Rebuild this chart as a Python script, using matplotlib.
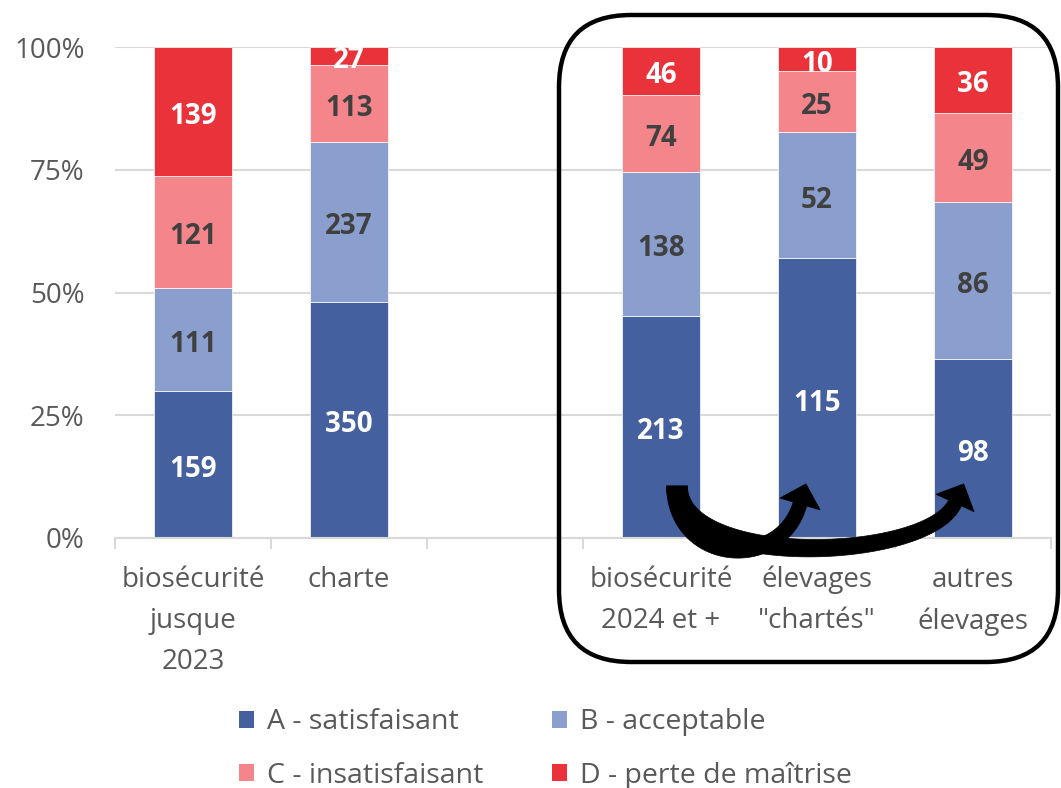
import numpy as np
import matplotlib
matplotlib.use("Agg")
import matplotlib.pyplot as plt
from matplotlib.patches import Patch, FancyBboxPatch, Polygon

plt.rcParams['font.family'] = ['Open Sans', 'DejaVu Sans']

categories = ["biosécurité\njusque\n2023", "charte", "",
              "biosécurité\n2024 et +", "élevages\n\"chartés\"", "autres\nélevages"]
A_vals = [159, 350, None, 213, 115, 98]
B_vals = [111, 237, None, 138, 52, 86]
C_vals = [121, 113, None, 74, 25, 49]
D_vals = [139, 27, None, 46, 10, 36]
series_names = ["A - satisfaisant", "B - acceptable", "C - insatisfaisant", "D - perte de maîtrise"]
colors = ["#44609e", "#8b9fcf", "#f4858a", "#ea323a"]
label_colors = ["white", "#404040", "#404040", "white"]
yticks = [0, 0.25, 0.5, 0.75, 1.0]
ytick_labels = ["0%", "25%", "50%", "75%", "100%"]

W, H = 1061, 788
fig = plt.figure(figsize=(W / 100, H / 100), dpi=100)
ax = fig.add_axes([115 / W, 1 - 538 / H, (1051 - 115) / W, (538 - 47) / H])

series = [A_vals, B_vals, C_vals, D_vals]
n = len(categories)
for i in range(n):
    vals = [s[i] for s in series]
    if any(v is None for v in vals):
        continue
    tot = float(sum(vals))
    bottom = 0.0
    for k, v in enumerate(vals):
        h = v / tot
        ax.bar(i, h, bottom=bottom, width=0.5, color=colors[k], zorder=2,
               edgecolor='white', linewidth=0.5)
        ax.annotate(str(v), (i, bottom + h / 2), xytext=(0, -3.5), textcoords='offset points',
                    ha='center', va='center', color=label_colors[k],
                    fontsize=20, fontweight='bold', zorder=3)
        bottom += h

ax.set_xlim(-0.5, n - 0.5)
ax.set_ylim(0, 1)
ax.set_yticks(yticks)
ax.set_yticklabels(ytick_labels)
ax.set_xticks(range(n))
ax.set_xticklabels(categories, linespacing=1.62)
ax.set_xticks(np.arange(-0.5, n, 1.0), minor=True)
ax.tick_params(axis='x', which='major', length=0, pad=20, labelsize=20, labelcolor='#595959')
ax.tick_params(axis='x', which='minor', length=8, width=1.5, color='#d9d9d9')
ax.tick_params(axis='y', length=0, pad=22, labelsize=20, labelcolor='#595959')
ax.yaxis.grid(True, color='#d9d9d9', linewidth=1.5, zorder=0)
ax.set_axisbelow(True)
for sp in ['top', 'right', 'left']:
    ax.spines[sp].set_visible(False)
ax.spines['bottom'].set_color('#d9d9d9')
ax.spines['bottom'].set_linewidth(1.5)

# rounded rectangle (figure pixel coords)
box = FancyBboxPatch((559 / W, 1 - 662 / H), (1058 - 559) / W, (662 - 15) / H,
                     boxstyle="round,pad=0,rounding_size=0.068",
                     transform=fig.transFigure, fill=False, edgecolor='black',
                     linewidth=3.2, mutation_aspect=W / H, zorder=5)
fig.patches.append(box)


# curved block arrows (annotation overlay, defined in pixel space -> data units)
def px2data(p):
    return ((p[0] - 115) / 156.0 - 0.5, (538 - p[1]) / 491.0)


def block_arrow(P0, C1, C2, P3, w0, w1, head_w, head_len):
    P0, C1, C2, P3 = map(np.array, (P0, C1, C2, P3))
    t = np.linspace(0, 1, 80)[:, None]
    pts = ((1 - t) ** 3) * P0 + 3 * ((1 - t) ** 2) * t * C1 + 3 * (1 - t) * t ** 2 * C2 + t ** 3 * P3
    d = 3 * ((1 - t) ** 2) * (C1 - P0) + 6 * (1 - t) * t * (C2 - C1) + 3 * t ** 2 * (P3 - C2)
    d = d / np.linalg.norm(d, axis=1, keepdims=True)
    nrm = np.column_stack([-d[:, 1], d[:, 0]])
    w = (w0 + (w1 - w0) * t) / 2.0
    left = pts + nrm * w
    right = pts - nrm * w
    dend, nend = d[-1], nrm[-1]
    tip = P3 + dend * head_len
    hl = P3 + nend * head_w / 2
    hr = P3 - nend * head_w / 2
    poly = np.vstack([left, hl[None], tip[None], hr[None], right[::-1]])
    return [px2data(p) for p in poly]


arrow_specs = [((677, 486), (677, 562), (780, 572), (800, 504)),
               ((677, 486), (677, 570), (928, 562), (955, 503))]
for P0, C1, C2, P3 in arrow_specs:
    verts = block_arrow(P0, C1, C2, P3, 21, 14, 42, 21)
    ax.add_patch(Polygon(verts, closed=True, facecolor='black', edgecolor='black',
                         linewidth=0.5, transform=ax.transData, clip_on=False, zorder=6))

handles = [Patch(facecolor=c, edgecolor='none') for c in colors]
order = [0, 2, 1, 3]
fig.legend([handles[i] for i in order], [series_names[i] for i in order],
           ncol=2, loc='center', bbox_to_anchor=(0.514, 1 - 749 / H),
           frameon=False, fontsize=20.5, labelcolor='#595959',
           handlelength=0.55, handleheight=0.55, handletextpad=0.45,
           columnspacing=2.4, labelspacing=0.9)

fig.savefig("out.png", dpi=100)
